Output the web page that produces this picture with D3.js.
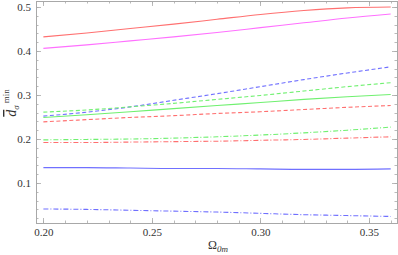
<!DOCTYPE html>
<html>
<head>
<meta charset="utf-8">
<script src="https://cdn.jsdelivr.net/npm/d3@7"></script>
<style>
  body { margin: 0; background: #fff; }
  svg { display: block; }
</style>
</head>
<body>
<div id="chart"></div>
<script>
const W = 398;
const H = 255;

// Omega_0m sample points
const omega = [0.20, 0.22, 0.24, 0.26, 0.28, 0.30, 0.32, 0.34, 0.36];

// curves
const redSolid = [0.432, 0.441, 0.451, 0.461, 0.472, 0.483, 0.492, 0.498, 0.500];
const magentaSolid = [0.406, 0.414, 0.423, 0.432, 0.442, 0.453, 0.464, 0.475, 0.484];
const blueDashed = [0.252, 0.261, 0.273, 0.288, 0.303, 0.319, 0.335, 0.350, 0.364];
const greenDashed = [0.261, 0.266, 0.273, 0.281, 0.290, 0.299, 0.309, 0.319, 0.328];
const greenSolid = [0.249, 0.255, 0.262, 0.269, 0.276, 0.283, 0.290, 0.296, 0.301];
const redDashed = [0.239, 0.244, 0.249, 0.253, 0.258, 0.262, 0.267, 0.272, 0.276];
const greenDashDot = [0.198, 0.199, 0.200, 0.202, 0.205, 0.209, 0.214, 0.220, 0.227];
const redDashDot = [0.192, 0.192, 0.193, 0.194, 0.195, 0.197, 0.199, 0.202, 0.205];
const blueSolid = [0.135, 0.135, 0.134, 0.133, 0.133, 0.132, 0.131, 0.131, 0.132];
const blueDashDot = [0.041, 0.040, 0.038, 0.036, 0.034, 0.031, 0.028, 0.026, 0.024];

const xTicks = [0.20, 0.25, 0.30, 0.35];
const yTicks = [0.1, 0.2, 0.3, 0.4, 0.5];

const RED = '#ff7070';
const MAGENTA = '#ff70ff';
const BLUE = '#7070ff';
const GREEN = '#70f070';
const DASH = '4,2.5';
const DASHDOT = '5,2,1,2';

const series = [
  { v: redSolid, c: RED, d: null },
  { v: magentaSolid, c: MAGENTA, d: null },
  { v: blueDashed, c: BLUE, d: DASH },
  { v: greenDashed, c: GREEN, d: DASH },
  { v: greenSolid, c: GREEN, d: null },
  { v: redDashed, c: RED, d: DASH },
  { v: greenDashDot, c: GREEN, d: DASHDOT },
  { v: redDashDot, c: RED, d: DASHDOT },
  { v: blueSolid, c: BLUE, d: null },
  { v: blueDashDot, c: BLUE, d: DASHDOT },
];

const pl = 36, pr = 397, pt = 1, pb = 223;
const serif = '"Liberation Serif", "DejaVu Serif", serif';

const x = d3.scaleLinear().domain([0.1966, 0.3629]).range([pl, pr]);
const y = d3.scaleLinear().domain([0.0091, 0.5136]).range([pb, pt]);

const svg = d3.select('#chart').append('svg')
  .attr('width', W)
  .attr('height', H);

const frameColor = '#a8a8a8';

// frame
svg.append('rect')
  .attr('x', pl + 0.5).attr('y', pt + 0.5)
  .attr('width', pr - pl).attr('height', pb - pt)
  .attr('fill', 'none')
  .attr('stroke', frameColor)
  .attr('stroke-width', 1);

const xMinor = d3.range(0.20, 0.3605, 0.01);
const yMinor = d3.range(0.02, 0.5105, 0.02);

function tickMarks(vals, len, scale, side) {
  svg.append('g').selectAll('line')
    .data(vals)
    .enter()
    .append('line')
    .attr('stroke', frameColor)
    .attr('stroke-width', 0.8)
    .each(function(v) {
      const s = d3.select(this);
      const p = Math.round(scale(v)) + 0.5;
      if (side === 'bottom') s.attr('x1', p).attr('x2', p).attr('y1', pb).attr('y2', pb - len);
      if (side === 'top') s.attr('x1', p).attr('x2', p).attr('y1', pt).attr('y2', pt + len);
      if (side === 'left') s.attr('y1', p).attr('y2', p).attr('x1', pl).attr('x2', pl + len);
      if (side === 'right') s.attr('y1', p).attr('y2', p).attr('x1', pr).attr('x2', pr - len);
    });
}

tickMarks(xMinor, 2.5, x, 'bottom');
tickMarks(xMinor, 2.5, x, 'top');
tickMarks(xTicks, 5, x, 'bottom');
tickMarks(xTicks, 5, x, 'top');
tickMarks(yMinor, 2.5, y, 'left');
tickMarks(yMinor, 2.5, y, 'right');
tickMarks(yTicks, 5, y, 'left');
tickMarks(yTicks, 5, y, 'right');

// tick labels via axes (lines hidden)
const xAxis = svg.append('g')
  .attr('transform', `translate(0,${pb})`)
  .call(d3.axisBottom(x).tickValues(xTicks).tickFormat(d3.format('.2f')).tickSize(0).tickPadding(5));
xAxis.select('.domain').remove();

const yAxis = svg.append('g')
  .attr('transform', `translate(${pl},0)`)
  .call(d3.axisLeft(y).tickValues(yTicks).tickFormat(d3.format('.1f')).tickSize(0).tickPadding(5));
yAxis.select('.domain').remove();

[xAxis, yAxis].forEach(a => a
  .attr('font-family', serif)
  .attr('font-size', 11)
  .selectAll('text').attr('fill', '#333'));

// curves
const line = d3.line()
  .x((d, i) => x(omega[i]))
  .y(d => y(d))
  .curve(d3.curveMonotoneX);

svg.append('g').selectAll('path')
  .data(series)
  .enter()
  .append('path')
  .attr('d', s => line(s.v))
  .attr('fill', 'none')
  .attr('stroke', s => s.c)
  .attr('stroke-width', 1.1)
  .attr('stroke-dasharray', s => s.d);

// axis titles
const xt = svg.append('text')
  .attr('x', 208).attr('y', 249)
  .attr('font-family', serif)
  .attr('font-size', 12)
  .attr('fill', '#333');
xt.append('tspan').text('Ω');
xt.append('tspan').attr('font-size', 9).attr('dy', 3).attr('font-style', 'italic').text('0m');

const yt = svg.append('text')
  .attr('transform', 'translate(16,103) rotate(-90)')
  .attr('text-anchor', 'middle')
  .attr('font-family', serif)
  .attr('font-size', 14)
  .attr('fill', '#333');
yt.append('tspan').attr('font-style', 'italic').attr('text-decoration', 'overline').text('d');
yt.append('tspan').attr('font-size', 9).attr('dy', 3).attr('font-style', 'italic').text('σ');
yt.append('tspan').attr('font-size', 9).attr('dy', -10).attr('dx', 2).text('min');
</script>
</body>
</html>
